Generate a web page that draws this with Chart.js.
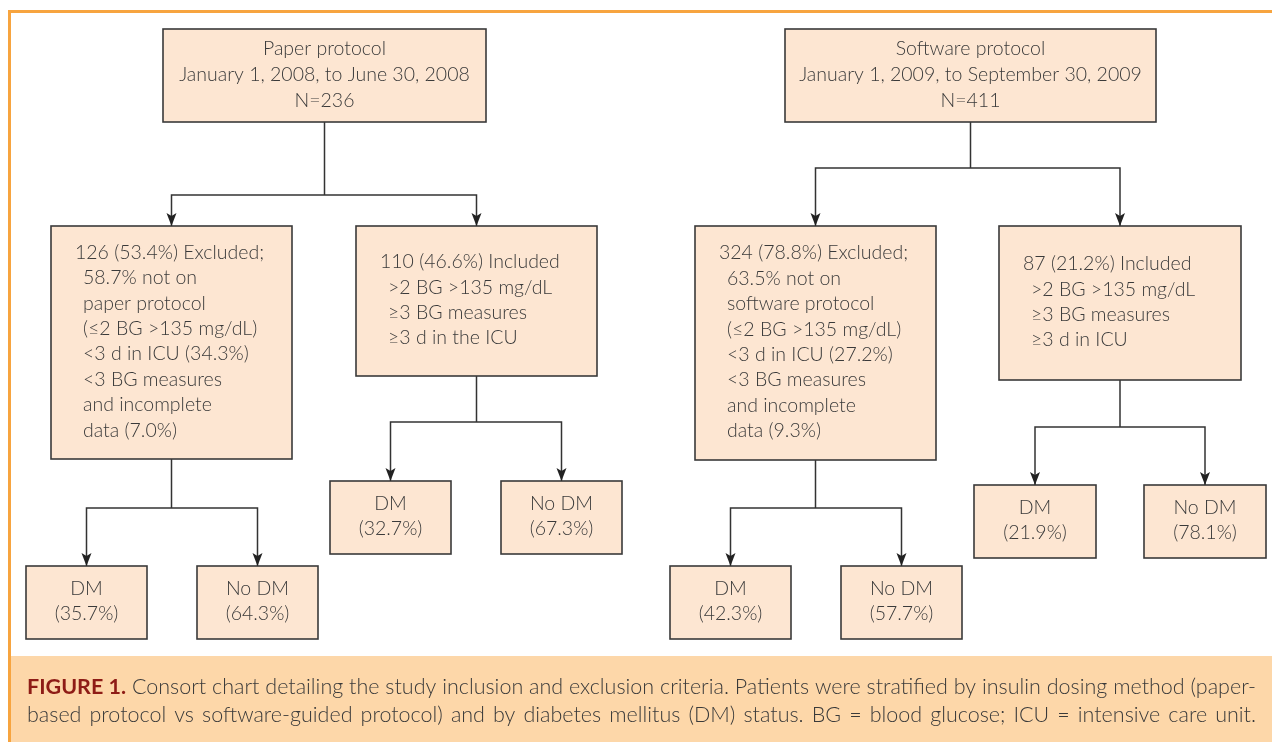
<!DOCTYPE html>
<html>
<head>
<meta charset="utf-8">
<script src="https://cdn.jsdelivr.net/npm/chart.js@4"></script>
<style>
  html, body { margin: 0; padding: 0; background: #fff; }
  #wrap { width: 1272px; height: 742px; position: relative; }
</style>
</head>
<body>
<div id="wrap"><canvas id="flow"></canvas></div>
<script>
// study arms
const protocols = ["Paper protocol", "Software protocol"];
const protocolWords = ["paper", "software"];
const periods = ["January 1, 2008, to June 30, 2008", "January 1, 2009, to September 30, 2009"];
const totals = [236, 411];

// excluded patients
const excludedN = [126, 324];
const excludedPct = [53.4, 78.8];
const notOnProtocolPct = [58.7, 63.5];
const shortIcuPct = [34.3, 27.2];
const incompletePct = [7.0, 9.3];

// included patients
const includedN = [110, 87];
const includedPct = [46.6, 21.2];
const includedIcuText = ["≥3 d in the ICU", "≥3 d in ICU"];

// diabetes split
const dmExcludedPct = [35.7, 42.3];
const noDmExcludedPct = [64.3, 57.7];
const dmIncludedPct = [32.7, 21.9];
const noDmIncludedPct = [67.3, 78.1];

const captionLead = "FIGURE 1.";
const captionLines = [
  "Consort chart detailing the study inclusion and exclusion criteria. Patients were stratified by insulin dosing method (paper-",
  "based protocol vs software-guided protocol) and by diabetes mellitus (DM) status. BG = blood glucose; ICU = intensive care unit."
];

// ---- layout (px in a 1272 x 742 frame) ----
const boxRects = {
  top0: [163, 29, 486, 122],   top1: [785, 29, 1156, 122],
  exc0: [51, 226, 292, 459],   exc1: [695, 226, 936, 460],
  inc0: [356, 226, 597, 376],  inc1: [999, 226, 1241, 380],
  excDm0: [26, 566, 147, 639], excNo0: [197, 566, 318, 639],
  excDm1: [670, 566, 791, 639], excNo1: [841, 566, 962, 639],
  incDm0: [330, 481, 451, 554], incNo0: [501, 481, 622, 554],
  incDm1: [974, 485, 1096, 558], incNo1: [1144, 485, 1266, 558]
};
const forks = [
  ["top0", "exc0", "inc0", 195], ["top1", "exc1", "inc1", 168],
  ["exc0", "excDm0", "excNo0", 508], ["inc0", "incDm0", "incNo0", 422],
  ["exc1", "excDm1", "excNo1", 508], ["inc1", "incDm1", "incNo1", 427]
];

const FONT = "Lato, 'Open Sans', sans-serif";
const TEXT = "#3a3a3a";
const f1 = v => v.toFixed(1);

// text content of each box
function boxText(key) {
  const i = +key.slice(-1);
  if (key.startsWith("top")) {
    return { align: "center", lines: [protocols[i], periods[i], "N=" + totals[i]] };
  }
  if (key.startsWith("exc") && key.length === 4) {
    return { align: "left", lines: [
      `${excludedN[i]} (${f1(excludedPct[i])}%) Excluded;`,
      `${f1(notOnProtocolPct[i])}% not on`,
      `${protocolWords[i]} protocol`,
      "(≤2 BG >135 mg/dL)",
      `<3 d in ICU (${f1(shortIcuPct[i])}%)`,
      "<3 BG measures",
      "and incomplete",
      `data (${f1(incompletePct[i])}%)`
    ] };
  }
  if (key.startsWith("inc") && key.length === 4) {
    return { align: "left", lines: [
      `${includedN[i]} (${f1(includedPct[i])}%) Included`,
      ">2 BG >135 mg/dL",
      "≥3 BG measures",
      includedIcuText[i]
    ] };
  }
  const isDm = key.includes("Dm");
  const pct = key.startsWith("exc")
    ? (isDm ? dmExcludedPct[i] : noDmExcludedPct[i])
    : (isDm ? dmIncludedPct[i] : noDmIncludedPct[i]);
  return { align: "center", lines: [isDm ? "DM" : "No DM", `(${f1(pct)}%)`] };
}

const cx = k => (boxRects[k][0] + boxRects[k][2]) / 2;

// connector polylines, one dataset per fork
const connectorSets = forks.map(([p, a, b, jy]) => ({
  data: [
    { x: cx(a), y: boxRects[a][1] }, { x: cx(a), y: jy },
    { x: cx(b), y: jy }, { x: cx(b), y: boxRects[b][1] },
    { x: cx(p), y: null },
    { x: cx(p), y: boxRects[p][3] }, { x: cx(p), y: jy }
  ],
  showLine: true,
  spanGaps: false,
  borderColor: "#333",
  borderWidth: 1.5,
  pointRadius: 0
}));

const flowPlugin = {
  id: "flow",
  beforeDraw(chart) {
    const c = chart.ctx, sx = chart.scales.x, sy = chart.scales.y;
    const X = v => sx.getPixelForValue(v), Y = v => sy.getPixelForValue(v);
    c.save();
    c.fillStyle = "#fff";
    c.fillRect(0, 0, chart.width, chart.height);
    // caption panel
    c.fillStyle = "#fdd7a9";
    c.fillRect(X(10), Y(656), X(1272) - X(10), Y(742) - Y(656));
    // frame
    c.strokeStyle = "#f7a43f";
    c.lineWidth = 3;
    c.beginPath();
    c.moveTo(X(9.5), Y(742));
    c.lineTo(X(9.5), Y(11.5));
    c.lineTo(X(1272), Y(11.5));
    c.stroke();
    c.restore();
  },
  afterDatasetsDraw(chart) {
    const c = chart.ctx, sx = chart.scales.x, sy = chart.scales.y;
    const X = v => sx.getPixelForValue(v), Y = v => sy.getPixelForValue(v);
    c.save();
    // boxes
    Object.keys(boxRects).forEach(k => {
      const [x0, y0, x1, y1] = boxRects[k];
      c.fillStyle = "#fde6d2";
      c.fillRect(X(x0), Y(y0), X(x1) - X(x0), Y(y1) - Y(y0));
      c.strokeStyle = "#3a3a3a";
      c.lineWidth = 1.6;
      c.strokeRect(X(x0), Y(y0), X(x1) - X(x0), Y(y1) - Y(y0));

      const t = boxText(k);
      c.fillStyle = TEXT;
      c.textBaseline = "middle";
      const big = k.startsWith("top");
      const lh = big ? 26 : 25.4;
      c.font = `300 ${big ? 19.5 : 19.5}px ${FONT}`;
      const n = t.lines.length;
      const midY = (y0 + y1) / 2 - 1;
      t.lines.forEach((s, j) => {
        const yy = midY + (j - (n - 1) / 2) * lh;
        if (t.align === "center") {
          c.textAlign = "center";
          c.fillText(s, X((x0 + x1) / 2), Y(yy));
        } else {
          c.textAlign = "left";
          c.fillText(s, X(x0 + 24 + (j ? 8 : 0)), Y(yy));
        }
      });
    });
    // arrow heads
    c.fillStyle = "#222";
    forks.forEach(([p, a, b]) => {
      [a, b].forEach(k => {
        const tx = X(cx(k)), ty = Y(boxRects[k][1]);
        c.beginPath();
        c.moveTo(tx, ty);
        c.lineTo(tx - 5, ty - 13);
        c.lineTo(tx, ty - 10);
        c.lineTo(tx + 5, ty - 13);
        c.closePath();
        c.fill();
      });
    });
    // caption, justified
    const left = 27, right = 1256, capSize = 21.5;
    captionLines.forEach((line, li) => {
      const yy = Y(li === 0 ? 687 : 715);
      const words = [];
      if (li === 0) words.push({ s: captionLead, bold: true });
      line.split(" ").forEach(w => words.push({ s: w, bold: false }));
      let total = 0;
      words.forEach(w => {
        c.font = `${w.bold ? 700 : 300} ${capSize}px ${FONT}`;
        w.w = c.measureText(w.s).width;
        total += w.w;
      });
      const gap = (X(right) - X(left) - total) / (words.length - 1);
      let x = X(left);
      c.textAlign = "left";
      c.textBaseline = "middle";
      words.forEach(w => {
        c.font = `${w.bold ? 700 : 300} ${capSize}px ${FONT}`;
        c.fillStyle = w.bold ? "#8e1c16" : TEXT;
        c.fillText(w.s, x, yy);
        x += w.w + gap;
      });
    });
    c.restore();
  }
};

new Chart(document.getElementById("flow"), {
  type: "scatter",
  data: { datasets: connectorSets },
  options: {
    responsive: true,
    maintainAspectRatio: false,
    animation: false,
    layout: { padding: 0 },
    plugins: { legend: { display: false }, tooltip: { enabled: false } },
    scales: {
      x: { type: "linear", min: 0, max: 1272, display: false },
      y: { type: "linear", min: 0, max: 742, reverse: true, display: false }
    }
  },
  plugins: [flowPlugin]
});
</script>
</body>
</html>
